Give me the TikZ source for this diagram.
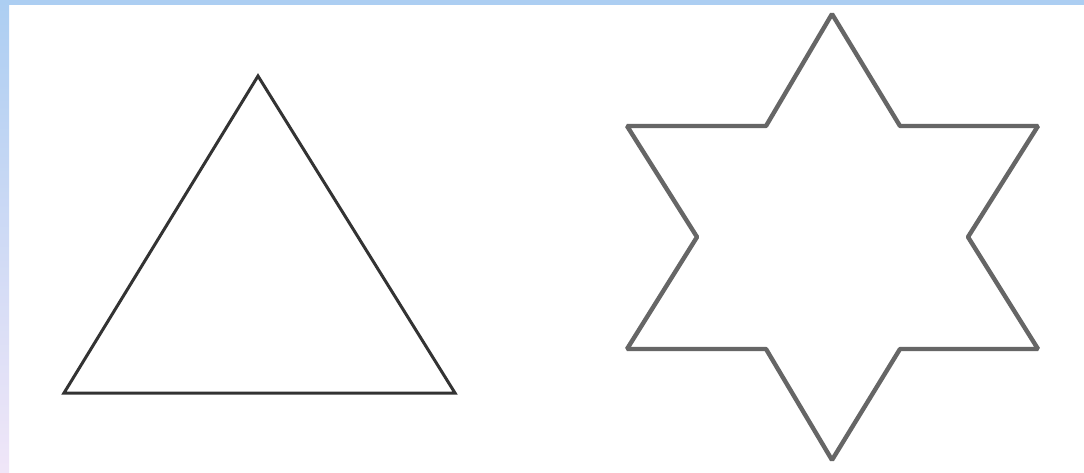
\documentclass[tikz,border=0pt]{standalone}
\definecolor{edgeblue}{RGB}{172,206,242}
\definecolor{edgelav}{RGB}{240,230,248}
\begin{document}
\begin{tikzpicture}[x=1pt,y=-1pt,
  tri/.style={draw=black!80,line width=3pt,line join=miter},
  starline/.style={draw=black!60,line width=4.4pt,line join=bevel}]
\useasboundingbox (0,0) rectangle (1084,473);
\fill[white] (0,0) rectangle (1084,473);
\fill[top color=edgeblue,bottom color=edgelav] (0,0) rectangle (9,473);
\fill[edgeblue] (0,0) rectangle (1084,5);
% triangle
\coordinate (A) at (258,76);
\coordinate (B) at (64,393);
\coordinate (C) at (455,393);
\draw[tri] (A) -- (B) -- (C) -- cycle;
% star
\coordinate (s1) at (832,14);
\coordinate (s2) at (766,126);
\coordinate (s3) at (627,126);
\coordinate (s4) at (697,237);
\coordinate (s5) at (627,349);
\coordinate (s6) at (766,349);
\coordinate (s7) at (832,460);
\coordinate (s8) at (900,349);
\coordinate (s9) at (1038,349);
\coordinate (s10) at (968,237);
\coordinate (s11) at (1038,126);
\coordinate (s12) at (900,126);
\draw[starline] (s1) -- (s2) -- (s3) -- (s4) -- (s5) -- (s6) -- (s7) -- (s8) -- (s9) -- (s10) -- (s11) -- (s12) -- cycle;
\end{tikzpicture}
\end{document}
